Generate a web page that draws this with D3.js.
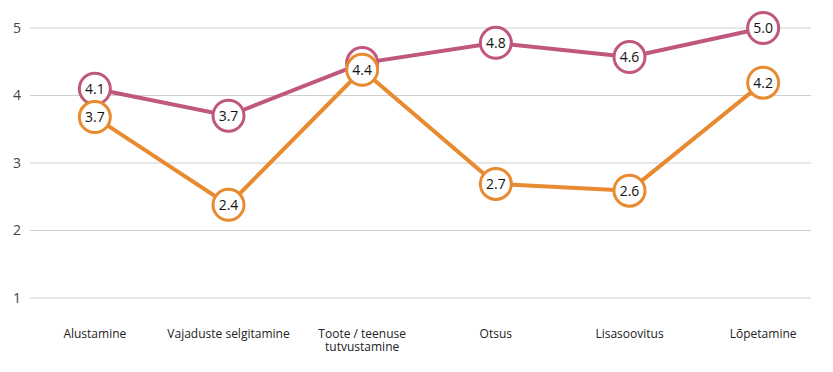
<!DOCTYPE html>
<html>
<head>
<meta charset="utf-8">
<script src="https://cdn.jsdelivr.net/npm/d3@7"></script>
<style>
body { margin: 0; background: #fff; }
text { font-family: "Open Sans", sans-serif; }
</style>
</head>
<body>
<div id="chart"></div>
<script>
var categories = ["Alustamine", "Vajaduste selgitamine", "Toote / teenuse tutvustamine", "Otsus", "Lisasoovitus", "Lõpetamine"];
var purpleValues = [4.1, 3.7, 4.48, 4.78, 4.57, 5.0];
var orangeValues = [3.68, 2.38, 4.38, 2.69, 2.59, 4.19];
var yTicks = [1, 2, 3, 4, 5];

var svgWidth = 833;
var svgHeight = 372;

var svg = d3.select("#chart")
    .append("svg")
    .attr("width", svgWidth)
    .attr("height", svgHeight);

var x = d3.scalePoint()
    .domain(categories)
    .range([28, 830])
    .padding(0.5);

var y = d3.scaleLinear()
    .domain([1, 5])
    .range([298, 28]);

// grid + y labels
var grid = svg.append("g");
grid.selectAll("line")
    .data(yTicks)
    .enter()
    .append("line")
    .attr("x1", 30)
    .attr("x2", 811)
    .attr("y1", d => y(d))
    .attr("y2", d => y(d))
    .attr("stroke", "#cfcfcf")
    .attr("stroke-width", 1);

grid.selectAll("text")
    .data(yTicks)
    .enter()
    .append("text")
    .attr("x", 21)
    .attr("y", d => y(d))
    .attr("dy", "0.35em")
    .attr("text-anchor", "end")
    .attr("font-size", 14)
    .attr("fill", "#444")
    .text(d => d);

// x labels, wrapped
function wrap(text, width)
{
    text.each(function ()
    {
        var t = d3.select(this);
        var words = t.text().split(/\s+/);
        var line = [];
        var xPos = t.attr("x");
        t.text(null);
        var tspan = t.append("tspan").attr("x", xPos).attr("dy", 0);
        words.forEach(function (w)
        {
            line.push(w);
            tspan.text(line.join(" "));
            if (tspan.node().getComputedTextLength() > width && line.length > 1)
            {
                line.pop();
                tspan.text(line.join(" "));
                line = [w];
                tspan = t.append("tspan").attr("x", xPos).attr("dy", "1.05em").text(w);
            }
        });
    });
}

svg.append("g")
    .selectAll("text")
    .data(categories)
    .enter()
    .append("text")
    .attr("x", d => x(d))
    .attr("y", 338)
    .attr("text-anchor", "middle")
    .attr("font-size", 12)
    .attr("fill", "#222")
    .text(d => d)
    .call(wrap, 125);

var series = [
    { values: purpleValues, color: "#c0577e" },
    { values: orangeValues, color: "#e88a30" }
];

var line = d3.line()
    .x((d, i) => x(categories[i]))
    .y(d => y(d));

series.forEach(function (s)
{
    var g = svg.append("g");
    g.append("path")
        .datum(s.values)
        .attr("d", line)
        .attr("fill", "none")
        .attr("stroke", s.color)
        .attr("stroke-width", 4);

    var pts = g.selectAll("g.pt")
        .data(s.values)
        .enter()
        .append("g")
        .attr("transform", (d, i) => `translate(${x(categories[i])}, ${y(d)})`);

    pts.append("circle")
        .attr("r", 15.5)
        .attr("fill", "#fff")
        .attr("stroke", s.color)
        .attr("stroke-width", 3);

    pts.append("text")
        .attr("text-anchor", "middle")
        .attr("dy", "0.36em")
        .attr("font-size", 14)
        .attr("fill", "#111")
        .text(d => d3.format(".1f")(d));
});
</script>
</body>
</html>
